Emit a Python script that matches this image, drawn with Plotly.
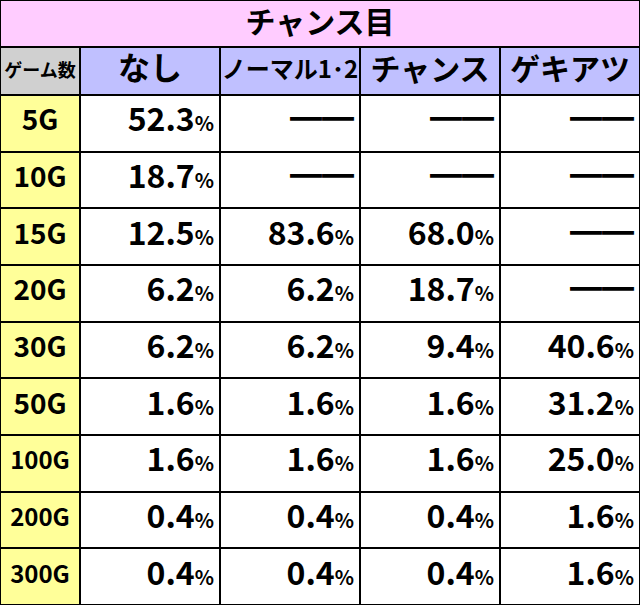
import plotly.graph_objects as go

title = "チャンス目"
headers = ["ゲーム数", "なし", "ノーマル1･2", "チャンス", "ゲキアツ"]
games = ["5G", "10G", "15G", "20G", "30G", "50G", "100G", "200G", "300G"]
nashi = [52.3, 18.7, 12.5, 6.2, 6.2, 1.6, 1.6, 0.4, 0.4]
normal = [None, None, 83.6, 6.2, 6.2, 1.6, 1.6, 0.4, 0.4]
chance = [None, None, 68.0, 18.7, 9.4, 1.6, 1.6, 0.4, 0.4]
gekiatsu = [None, None, None, None, 40.6, 31.2, 25.0, 1.6, 1.6]

W, H = 640, 605
FONT = "Noto Sans CJK JP"
col_edges = [0, 80, 220, 360, 500, 640]
row_h = (H - 95) / len(games)
row_edges = [95 + i * row_h for i in range(len(games) + 1)]

fig = go.Figure()
# title row
fig.add_trace(go.Heatmap(x=[0, 640], y=[0, 47], z=[[0]], colorscale=[[0, "#ffccff"], [1, "#ffccff"]],
                         showscale=False, xgap=2, ygap=2, hoverinfo="skip"))
# header row
fig.add_trace(go.Heatmap(x=col_edges, y=[47, 95], z=[[0, 1, 1, 1, 1]],
                         colorscale=[[0, "#d0d0d0"], [1, "#c0c0ff"]],
                         showscale=False, xgap=2, ygap=2, hoverinfo="skip"))
# body
fig.add_trace(go.Heatmap(x=col_edges, y=row_edges, z=[[0, 1, 1, 1, 1] for _ in games],
                         colorscale=[[0, "#ffff99"], [1, "#ffffff"]],
                         showscale=False, xgap=2, ygap=2, hoverinfo="skip"))

mids = [(row_edges[i] + row_edges[i + 1]) / 2 for i in range(len(games))]
fig.add_trace(go.Scatter(x=[320], y=[25], mode="text", text=["<b>%s</b>" % title],
                         textfont=dict(family=FONT, size=30, color="black")))
hx = [(col_edges[i] + col_edges[i + 1]) / 2 for i in range(5)]
fig.add_trace(go.Scatter(x=hx, y=[72] * 5, mode="text", text=["<b>%s</b>" % h for h in headers],
                         textfont=dict(family=FONT, size=[18, 32, 24, 30, 30], color="black")))
fig.add_trace(go.Scatter(x=[40] * len(games), y=mids, mode="text", text=["<b>%s</b>" % g for g in games],
                         textfont=dict(family=FONT, size=[28] * 6 + [24] * 3, color="black")))


def fmt(v):
    if v is None:
        return "<b>━━</b>"
    return "<b>%.1f</b><span style='font-size:20px'><b>%%</b></span>" % v


for i, vals in enumerate([nashi, normal, chance, gekiatsu]):
    fig.add_trace(go.Scatter(x=[col_edges[i + 2] - 6] * len(vals), y=mids, mode="text",
                             text=[fmt(v) for v in vals], textposition="middle left",
                             textfont=dict(family=FONT, size=32, color="black")))

fig.update_xaxes(range=[0, 640], visible=False, fixedrange=True)
fig.update_yaxes(range=[605, 0], visible=False, fixedrange=True)
fig.update_layout(width=W, height=H, margin=dict(l=0, r=0, t=0, b=0), showlegend=False,
                  plot_bgcolor="black", paper_bgcolor="black")
fig.write_html("out.html", config={"displayModeBar": False},
               post_script="document.body.style.margin='0';")
